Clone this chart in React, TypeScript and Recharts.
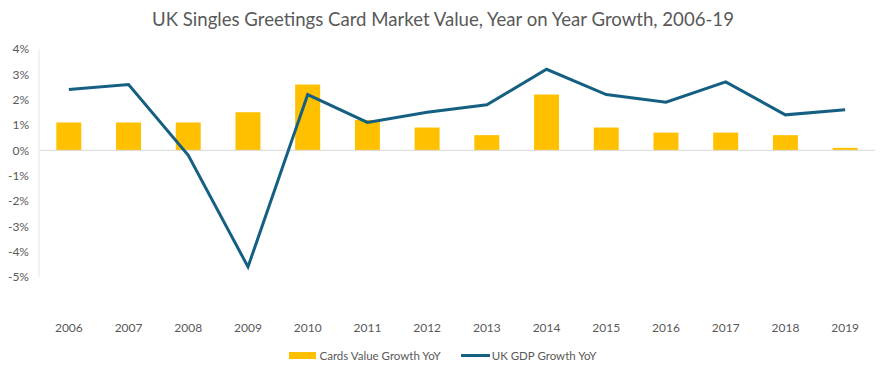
import { Bar, ComposedChart, Line, ReferenceLine, XAxis, YAxis } from "recharts";

const years = ["2006", "2007", "2008", "2009", "2010", "2011", "2012", "2013", "2014", "2015", "2016", "2017", "2018", "2019"];
const cardsGrowth = [1.1, 1.1, 1.1, 1.5, 2.6, 1.2, 0.9, 0.6, 2.2, 0.9, 0.7, 0.7, 0.6, 0.1];
const gdpGrowth = [2.4, 2.6, -0.2, -4.6, 2.2, 1.1, 1.5, 1.8, 3.2, 2.2, 1.9, 2.7, 1.4, 1.6];
const yTicks = [-5, -4, -3, -2, -1, 0, 1, 2, 3, 4];

const BAR_COLOR = "#FFC000";
const LINE_COLOR = "#156082";
const TEXT_COLOR = "#595959";
const FONT = "Lato, 'Open Sans', sans-serif";

const chartData = years.map((year, i) => ({
  year,
  cards: cardsGrowth[i],
  gdp: gdpGrowth[i],
}));

export default function App() {
  return (
    <div style={{ position: "absolute", left: 0, top: 0, width: 886, height: 375, background: "#fff", fontFamily: FONT }}>
      <div
        style={{
          position: "absolute",
          top: 8,
          left: 0,
          width: 886,
          textAlign: "center",
          fontSize: 18.6,
          color: TEXT_COLOR,
        }}
      >
        UK Singles Greetings Card Market Value, Year on Year Growth, 2006-19
      </div>
      <ComposedChart
        width={886}
        height={375}
        data={chartData}
        barCategoryGap="29%"
        margin={{ top: 49, right: 11, bottom: 38, left: 0 }}
      >
        <XAxis
          dataKey="year"
          axisLine={false}
          tickLine={false}
          height={60}
          tickMargin={40}
          tick={{ fontSize: 12, fill: TEXT_COLOR, fontFamily: FONT }}
        />
        <YAxis
          domain={[-5, 4]}
          ticks={yTicks}
          width={39}
          interval={0}
          tickFormatter={(v: number) => `${v}%`}
          axisLine={{ stroke: "#e6e6e6" }}
          tickLine={false}
          tickMargin={4}
          tick={{ fontSize: 12, fill: TEXT_COLOR, fontFamily: FONT }}
        />
        <ReferenceLine y={0} stroke="#d9d9d9" strokeWidth={1} />
        <Bar dataKey="cards" fill={BAR_COLOR} isAnimationActive={false} />
        <Line
          dataKey="gdp"
          type="linear"
          stroke={LINE_COLOR}
          strokeWidth={3}
          dot={false}
          isAnimationActive={false}
        />
      </ComposedChart>
      <div
        style={{
          position: "absolute",
          top: 349,
          left: 0,
          width: 886,
          display: "flex",
          justifyContent: "center",
          alignItems: "center",
          fontSize: 11.5,
          color: TEXT_COLOR,
        }}
      >
        <span style={{ display: "inline-block", width: 27, height: 7, background: BAR_COLOR, marginRight: 3 }} />
        <span style={{ marginRight: 20 }}>Cards Value Growth YoY</span>
        <span style={{ display: "inline-block", width: 29, height: 3, background: LINE_COLOR, marginRight: 2 }} />
        <span>UK GDP Growth YoY</span>
      </div>
    </div>
  );
}
